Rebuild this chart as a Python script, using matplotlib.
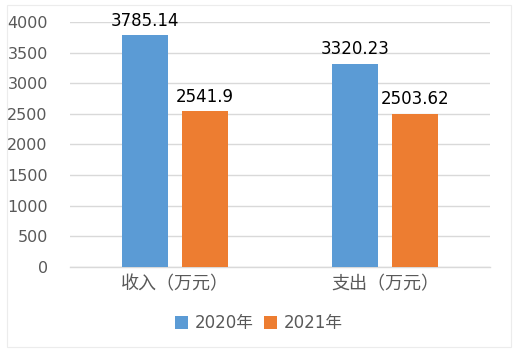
import matplotlib.pyplot as plt
import numpy as np

plt.rcParams['font.family'] = ['DejaVu Sans', 'Noto Sans CJK SC']

categories = ['收入（万元）', '支出（万元）']
series_names = ['2020年', '2021年']
values_2020 = [3785.14, 3320.23]
values_2021 = [2541.9, 2503.62]
value_labels_2020 = ['3785.14', '3320.23']
value_labels_2021 = ['2541.9', '2503.62']
yticks = [0, 500, 1000, 1500, 2000, 2500, 3000, 3500, 4000]

blue = '#5b9bd5'
orange = '#ed7d31'
grid_col = '#d9d9d9'
tick_col = '#595959'

fig = plt.figure(figsize=(5.18, 3.55), dpi=100)
# light chart border
fig.patches.append(plt.Rectangle((0.0135, 0.0225), 0.973, 0.963, transform=fig.transFigure,
                                 fill=False, edgecolor='#ececec', linewidth=0.8))
ax = fig.add_axes([0.135, 0.248, 0.811, 0.69])

x = np.arange(len(categories))
w = 0.22
off = 0.142
b1 = ax.bar(x - off, values_2020, w, color=blue, label=series_names[0], zorder=3)
b2 = ax.bar(x + off, values_2021, w, color=orange, label=series_names[1], zorder=3)

for rect, lab in zip(b1, value_labels_2020):
    ax.text(rect.get_x() + rect.get_width() / 2, rect.get_height() + 90, lab,
            ha='center', va='bottom', fontsize=12, color='black')
for rect, lab in zip(b2, value_labels_2021):
    ax.text(rect.get_x() + rect.get_width() / 2, rect.get_height() + 90, lab,
            ha='center', va='bottom', fontsize=12, color='black')

ax.set_xlim(-0.5, 1.5)
ax.set_ylim(0, 4000)
ax.set_yticks(yticks)
ax.set_yticklabels([str(v) for v in yticks])
ax.set_xticks(x)
ax.set_xticklabels(categories, fontsize=13, color=tick_col, family=['Noto Sans CJK SC'])
ax.tick_params(axis='y', labelsize=11.5, labelcolor=tick_col, length=0, pad=16)
ax.tick_params(axis='x', length=0, pad=6)
ax.grid(axis='y', color=grid_col, linewidth=1, zorder=0)
for s in ['top', 'right', 'left']:
    ax.spines[s].set_visible(False)
ax.spines['bottom'].set_color(grid_col)
ax.spines['bottom'].set_linewidth(1)

leg = ax.legend(loc='center', bbox_to_anchor=(0.5, 0.09), bbox_transform=fig.transFigure,
                ncol=2, frameon=False, handlelength=0.8, handleheight=0.8,
                handletextpad=0.4, columnspacing=0.6,
                prop={'family': ['DejaVu Sans', 'Noto Sans CJK SC'], 'size': 12})
for t in leg.get_texts():
    t.set_color(tick_col)

fig.savefig('out.png', dpi=100)
